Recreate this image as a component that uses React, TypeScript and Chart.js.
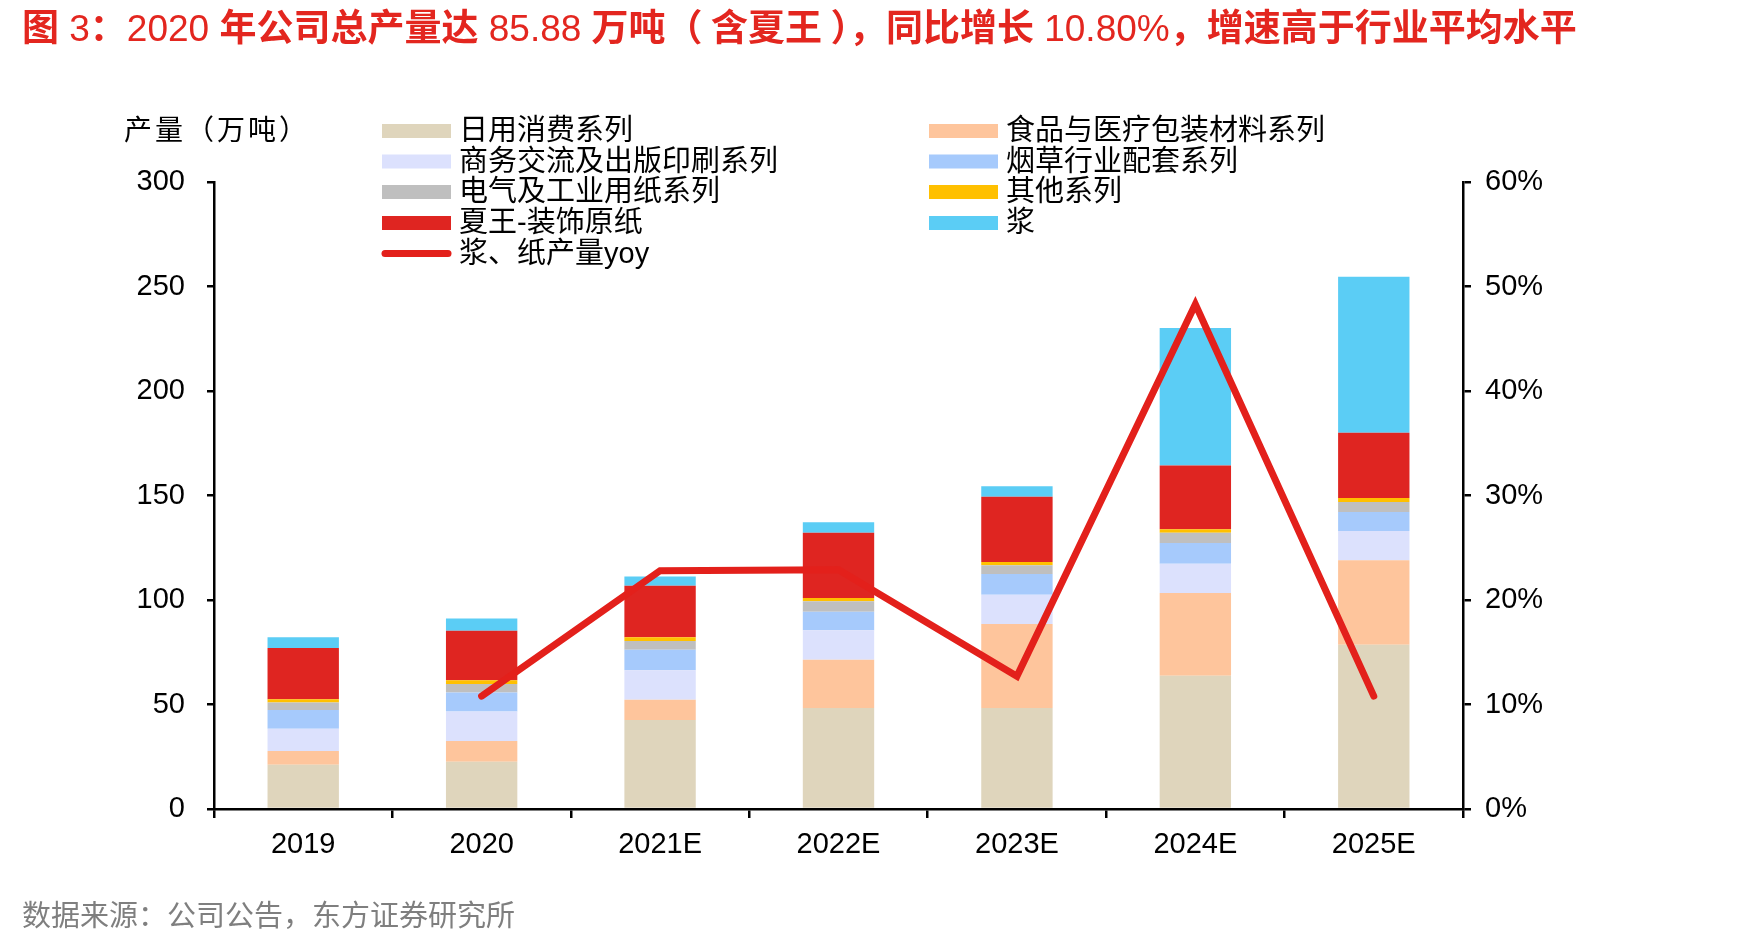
import React, { useEffect, useRef } from 'react';
import { Chart, registerables } from 'chart.js';

Chart.register(...registerables);

// Categories and series (产量, 万吨)
const categories = ['2019', '2020', '2021E', '2022E', '2023E', '2024E', '2025E'];
const dailyUse = [21.2, 22.6, 42.6, 48.3, 48.3, 63.8, 78.6];
const foodMedical = [6.6, 9.9, 9.7, 23.1, 40.2, 39.5, 40.4];
const businessPrint = [10.6, 14.1, 14.1, 14.1, 14.0, 14.1, 14.0];
const tobacco = [9.0, 9.2, 9.8, 8.9, 9.9, 9.9, 9.1];
const electrical = [3.5, 4.0, 4.2, 5.0, 4.2, 4.9, 4.8];
const others = [1.6, 1.8, 1.8, 1.6, 1.6, 1.6, 1.9];
const xiawang = [24.5, 23.7, 24.6, 31.2, 31.2, 30.5, 31.2];
const pulp = [5.2, 5.8, 4.4, 5.0, 5.0, 65.8, 74.7];
// 浆、纸产量 yoy (%)
const yoy = [null, 10.8, 22.8, 22.9, 12.7, 48.3, 10.8];

const leftTicks = [0, 50, 100, 150, 200, 250, 300];
const rightTicks = [0, 10, 20, 30, 40, 50, 60];

// Title split into CJK (bold) and Latin (regular) runs
const titleRuns: [string, boolean][] = [
  ['图', true], [' 3', false], ['：', true], ['2020 ', false], ['年公司总产量达', true],
  [' 85.88 ', false], ['万吨（ 含夏王 ），同比增长', true], [' 10.80%', false], ['，增速高于行业平均水平', true],
];

const CJK = '"Noto Sans CJK SC", sans-serif';
const LATIN = '"Liberation Sans", "Noto Sans CJK SC", sans-serif';

// Two-column legend drawn above the plot
const gridLegend = {
  id: 'gridLegend',
  afterDraw(chart: any) {
    const ctx = chart.ctx;
    const colX = [382, 929];
    const rowY = [131, 161.5, 192, 223, 253.5];
    ctx.save();
    ctx.font = `29px ${LATIN}`;
    ctx.textBaseline = 'middle';
    ctx.textAlign = 'left';
    chart.data.datasets.forEach((ds: any, i: number) => {
      const x = colX[i % 2];
      const y = rowY[Math.floor(i / 2)];
      if (ds.type === 'line') {
        ctx.strokeStyle = ds.borderColor;
        ctx.lineWidth = 7;
        ctx.lineCap = 'round';
        ctx.beginPath();
        ctx.moveTo(x + 3, y);
        ctx.lineTo(x + 66, y);
        ctx.stroke();
      } else {
        ctx.fillStyle = ds.backgroundColor;
        ctx.fillRect(x, y - 7, 69, 14);
      }
      ctx.fillStyle = '#000';
      ctx.fillText(ds.label, x + 77, y + 1);
    });
    ctx.restore();
  },
};

export default function App() {
  const canvasRef = useRef<HTMLCanvasElement | null>(null);

  useEffect(() => {
    if (!canvasRef.current) return;
    const bar = (label: string, data: number[], color: string) => ({
      type: 'bar' as const,
      label,
      data,
      backgroundColor: color,
      borderWidth: 0,
      yAxisID: 'y',
      order: 1,
      barPercentage: 0.8,
      categoryPercentage: 0.5,
    });
    const tickFont = { family: LATIN, size: 29 };
    const chart = new Chart(canvasRef.current, {
      type: 'bar',
      data: {
        labels: categories,
        datasets: [
          bar('日用消费系列', dailyUse, '#DFD5BC'),
          bar('食品与医疗包装材料系列', foodMedical, '#FEC59C'),
          bar('商务交流及出版印刷系列', businessPrint, '#DCE1FD'),
          bar('烟草行业配套系列', tobacco, '#A6CAFC'),
          bar('电气及工业用纸系列', electrical, '#BFBFBF'),
          bar('其他系列', others, '#FFC000'),
          bar('夏王-装饰原纸', xiawang, '#DF2521'),
          bar('浆', pulp, '#5BCDF5'),
          {
            type: 'line' as const,
            label: '浆、纸产量yoy',
            data: yoy,
            borderColor: '#E3201B',
            backgroundColor: '#E3201B',
            borderWidth: 7,
            borderCapStyle: 'round',
            borderJoinStyle: 'miter',
            pointRadius: 0,
            tension: 0,
            yAxisID: 'y1',
            order: 0,
          } as any,
        ],
      },
      options: {
        animation: false,
        responsive: false,
        layout: { padding: { top: 182, left: 0, right: 0, bottom: 0 } },
        plugins: {
          legend: { display: false },
          tooltip: { enabled: false },
          title: { display: false },
        },
        scales: {
          x: {
            stacked: true,
            offset: true,
            afterFit: (s: any) => { s.height = 134; },
            grid: { display: true, drawOnChartArea: false, drawTicks: true, tickLength: 9, offset: true, color: '#000', lineWidth: 2.5 },
            border: { display: true, color: '#000', width: 2.5 },
            ticks: { color: '#000', font: tickFont, padding: 10, maxRotation: 0 },
          },
          y: {
            stacked: true,
            position: 'left',
            min: 0,
            max: 300,
            afterFit: (s: any) => { s.width = 214; },
            afterBuildTicks: (s: any) => { s.ticks = leftTicks.map((v) => ({ value: v })); },
            grid: { drawOnChartArea: false, drawTicks: true, tickLength: 7, color: '#000', lineWidth: 2.5 },
            border: { display: true, color: '#000', width: 2.5 },
            ticks: { color: '#000', font: tickFont, padding: 22 },
          },
          y1: {
            position: 'right',
            min: 0,
            max: 60,
            afterFit: (s: any) => { s.width = 1748 - 1463; },
            afterBuildTicks: (s: any) => { s.ticks = rightTicks.map((v) => ({ value: v })); },
            grid: { drawOnChartArea: false, drawTicks: true, tickLength: 8, color: '#000', lineWidth: 2.5 },
            border: { display: true, color: '#000', width: 2.5 },
            ticks: { color: '#000', font: tickFont, padding: 14, callback: (v: any) => `${v}%` },
          },
        },
      },
      plugins: [gridLegend],
    });
    return () => chart.destroy();
  }, []);

  return (
    <div style={{ position: 'fixed', left: 0, top: 0, width: 1748, height: 943, background: '#fff', overflow: 'hidden' }}>
      <canvas ref={canvasRef} width={1748} height={943} style={{ position: 'absolute', left: 0, top: 0, width: 1748, height: 943 }} />
      <div style={{ position: 'absolute', left: 22, top: 2, fontFamily: LATIN, fontSize: 37, color: '#E3261F', whiteSpace: 'nowrap', lineHeight: '46px' }}>
        {titleRuns.map(([t, bold], i) => (
          <span key={i} style={{ fontWeight: bold ? 700 : 400, fontFamily: bold ? CJK : LATIN, whiteSpace: 'pre' }}>{t}</span>
        ))}
      </div>
      <div style={{ position: 'absolute', left: 124, top: 110, fontFamily: CJK, fontSize: 28, letterSpacing: 3, color: '#000', whiteSpace: 'nowrap', lineHeight: '36px' }}>
        产量（万吨）
      </div>
      <div style={{ position: 'absolute', left: 22, top: 895, fontFamily: CJK, fontSize: 29, color: '#7F7F7F', whiteSpace: 'nowrap', lineHeight: '36px' }}>
        数据来源：公司公告，东方证券研究所
      </div>
    </div>
  );
}
